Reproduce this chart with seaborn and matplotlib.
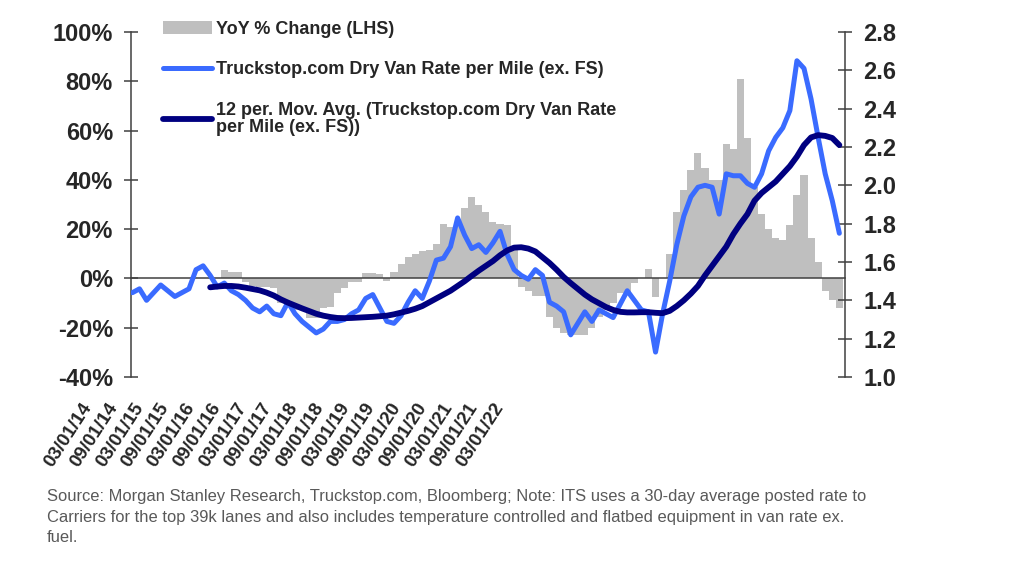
import matplotlib
matplotlib.use("Agg")
import matplotlib.pyplot as plt
import seaborn as sns

#%% Data (monthly, index 0 = Mar-2014)
months = list(range(101))

# Truckstop.com dry van rate per mile (ex. FS), RHS
rate = [1.44, 1.46, 1.40, 1.44, 1.48, 1.45, 1.42, 1.44, 1.46, 1.56,
        1.58, 1.53, 1.47, 1.49, 1.45, 1.43, 1.40, 1.36, 1.34, 1.37,
        1.33, 1.32, 1.39, 1.33, 1.29, 1.26, 1.23, 1.25, 1.29, 1.29,
        1.30, 1.33, 1.35, 1.41, 1.43, 1.36, 1.29, 1.28, 1.32, 1.39,
        1.45, 1.41, 1.50, 1.61, 1.62, 1.68, 1.83, 1.74, 1.67, 1.69,
        1.65, 1.70, 1.76, 1.64, 1.56, 1.53, 1.51, 1.56, 1.53, 1.39,
        1.37, 1.34, 1.22, 1.28, 1.34, 1.29, 1.35, 1.33, 1.31, 1.38,
        1.45, 1.40, 1.35, 1.34, 1.13, 1.33, 1.50, 1.69, 1.84, 1.94,
        1.99, 2.00, 1.99, 1.85, 2.06, 2.05, 2.05, 2.01, 1.99, 2.06,
        2.18, 2.25, 2.30, 2.39, 2.65, 2.61, 2.45, 2.25, 2.06, 1.92,
        1.75]

# 12 period moving average, starts at month 11
ma_start = 11
mov_avg = [1.468, 1.472, 1.475, 1.475, 1.472, 1.466, 1.459, 1.452, 1.440, 1.425,
           1.405, 1.388, 1.373, 1.358, 1.344, 1.330, 1.320, 1.313, 1.308, 1.307,
           1.308, 1.310, 1.312, 1.314, 1.317, 1.320, 1.327, 1.336, 1.345, 1.356,
           1.370, 1.390, 1.410, 1.430, 1.450, 1.475, 1.500, 1.528, 1.555, 1.580,
           1.605, 1.635, 1.660, 1.675, 1.677, 1.670, 1.655, 1.625, 1.595, 1.560,
           1.522, 1.490, 1.460, 1.430, 1.405, 1.385, 1.365, 1.350, 1.340, 1.337,
           1.337, 1.338, 1.338, 1.335, 1.333, 1.345, 1.370, 1.400, 1.435, 1.475,
           1.530, 1.580, 1.630, 1.680, 1.745, 1.800, 1.850, 1.920, 1.960, 1.990,
           2.020, 2.060, 2.100, 2.150, 2.210, 2.250, 2.262, 2.258, 2.247, 2.210]

# YoY % change, LHS, starts at month 13
yoy_start = 13
yoy = [3.5, 2.8, 2.8, -1.5, -3, -3.5, -3.5, -4, -10, -10,
       -13, -13, -16, -16, -12, -11.6, -6, -4, -1.5, -1.5,
       2.2, 2, 1.6, -1, 2.6, 6, 8.5, 10, 11, 11.4,
       14, 22, 21, 23, 28.5, 33, 29.6, 27, 23, 22,
       21.5, 12, -3.5, -5, -7, -7, -15.7, -20, -22, -23,
       -23, -23, -20, -15.7, -13, -10, -6, -6, -2, 0,
       4, -7.6, 0, 10, 27, 35.7, 43.8, 51, 45, 40,
       40, 54.6, 52.7, 81, 57, 37, 26, 20, 16.6, 15.4,
       21.5, 33.7, 41.8, 16.6, 6.5, -4.9, -8.9, -12]

date_labels = ['03/01/14', '09/01/14', '03/01/15', '09/01/15', '03/01/16', '09/01/16',
               '03/01/17', '09/01/17', '03/01/18', '09/01/18', '03/01/19', '09/01/19',
               '03/01/20', '09/01/20', '03/01/21', '09/01/21', '03/01/22']
left_ticks = [-40, -20, 0, 20, 40, 60, 80, 100]
right_ticks = [1.0, 1.2, 1.4, 1.6, 1.8, 2.0, 2.2, 2.4, 2.6, 2.8]

source_note = ("Source: Morgan Stanley Research, Truckstop.com, Bloomberg; Note: ITS uses a 30-day average posted rate to\n"
               "Carriers for the top 39k lanes and also includes temperature controlled and flatbed equipment in van rate ex.\n"
               "fuel.")

#%% Style
sns.set_style("white")
plt.rcParams['font.family'] = ['Liberation Sans', 'DejaVu Sans']
gray = '#BFBFBF'
blue = '#3A6BFF'
navy = '#000080'
axis_col = '#404040'

fig = plt.figure(figsize=(10.24, 5.76), dpi=100)
ax = fig.add_axes([131/1024, 1 - 377/576, 714/1024, 345/576])

# YoY bars
sns.barplot(x=months[yoy_start:], y=yoy, native_scale=True, orient='x', color=gray,
            saturation=1, width=1, linewidth=0, errorbar=None, ax=ax,
            label='YoY % Change (LHS)')
ax.set_ylim(-40, 100)
ax.set_yticks(left_ticks)
ax.set_yticklabels([f'{t}%' for t in left_ticks])

ax2 = ax.twinx()
sns.lineplot(x=months, y=rate, color=blue, linewidth=3.6, ax=ax2,
             label='Truckstop.com Dry Van Rate per Mile (ex. FS)')
sns.lineplot(x=months[ma_start:], y=mov_avg, color=navy, linewidth=4.2, ax=ax2,
             label='12 per. Mov. Avg. (Truckstop.com Dry Van Rate\nper Mile (ex. FS))')
ax2.set_ylim(1.0, 2.8)
ax2.set_yticks(right_ticks)
ax2.set_yticklabels([f'{t:.1f}' for t in right_ticks])

for a in (ax, ax2):
    a.set_xlim(-0.2, 100.8)
    a.set_xlabel('')
    a.set_ylabel('')

# category axis crosses at 0 %
ax.spines['bottom'].set_position(('data', 0))
ax.spines['top'].set_visible(False)
ax.spines['right'].set_visible(False)
for s in ('top', 'bottom', 'left'):
    ax2.spines[s].set_visible(False)
for s in ('bottom', 'left'):
    ax.spines[s].set_color(axis_col)
    ax.spines[s].set_linewidth(1.1)
ax2.spines['right'].set_color(axis_col)
ax2.spines['right'].set_linewidth(1.1)

ax.set_xticks(months[::6])
ax.tick_params(axis='x', direction='inout', length=9, width=1.1, color=axis_col,
               labelbottom=False)
ax.tick_params(axis='y', direction='inout', length=10, width=1.1, color=axis_col,
               labelsize=17, pad=8)
ax2.tick_params(axis='y', direction='inout', length=10, width=1.1, color=axis_col,
                labelsize=17, pad=8)
for lab in ax.get_yticklabels() + ax2.get_yticklabels():
    lab.set_fontweight('bold')

# legend
h1, l1 = ax.get_legend_handles_labels()
h2, l2 = ax2.get_legend_handles_labels()
if ax.get_legend():
    ax.get_legend().remove()
leg = ax2.legend(h1 + h2, l1 + l2, loc='upper left', bbox_to_anchor=(0.045, 1.033),
                 frameon=False, borderpad=0, borderaxespad=0, handlelength=2.7,
                 handletextpad=0.25, labelspacing=1.3, prop={'weight': 'bold', 'size': 13})
for t in leg.get_texts():
    t.set_linespacing(1.05)

# rotated date labels (sit to the left of the tick marks, as in the source)
lab_ax = fig.add_axes([81/1024, 1 - 400/576, 412/1024, 0.001])
lab_ax.set_xlim(0, len(date_labels) - 1)
lab_ax.set_xticks(range(len(date_labels)))
lab_ax.set_xticklabels(date_labels, rotation=57, ha='right', va='top',
                       rotation_mode='anchor', fontsize=13.5, fontweight='bold')
lab_ax.tick_params(axis='x', length=0, pad=0)
lab_ax.set_yticks([])
for s in lab_ax.spines.values():
    s.set_visible(False)
lab_ax.patch.set_visible(False)

fig.text(47/1024, 1 - 489/576, source_note, ha='left', va='top', fontsize=11.85,
         color='#595959', linespacing=1.47)

fig.savefig('out.png', dpi=100)
